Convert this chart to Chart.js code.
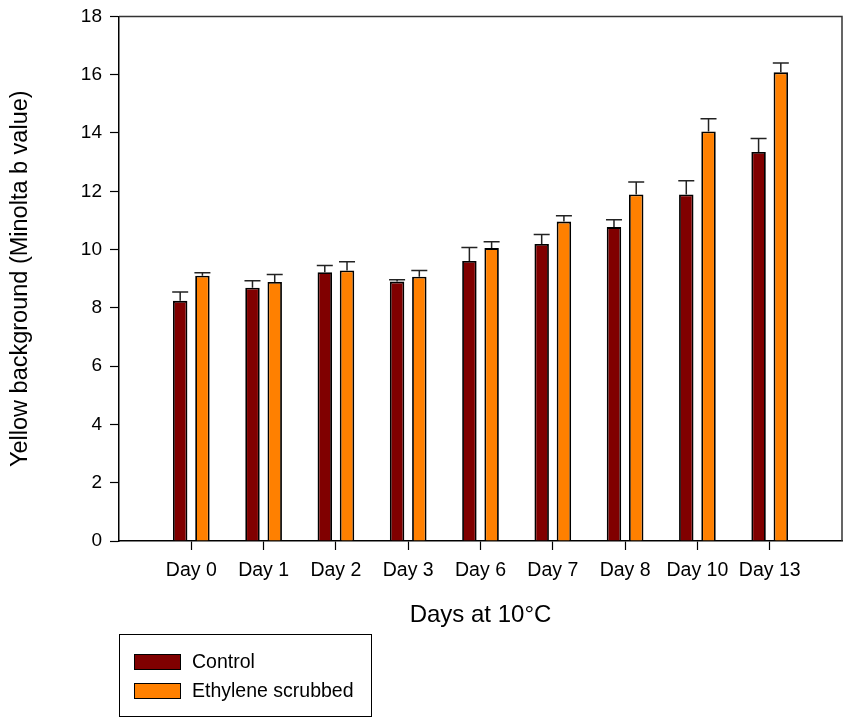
<!DOCTYPE html>
<html lang="en">
<head>
  <meta charset="UTF-8">
  <title>Yellow background</title>
  <script src="https://cdn.jsdelivr.net/npm/chart.js"></script>
  <style>
    body { margin: 0; background: #fff; overflow: hidden; font-family: Arial, "Liberation Sans", sans-serif; }
    #wrap { position: relative; width: 847px; height: 722px; overflow: hidden; }
    canvas { position: absolute; left: 0; top: -3px; }
    #legend { position: absolute; left: 119px; top: 634px; width: 253px; height: 83px;
              border: 1.5px solid #000; box-sizing: border-box; }
    .item { position: absolute; left: 14px; font-size: 19.5px; line-height: 19px; color: #000; }
    .sw { display: inline-block; width: 47px; height: 16px; border: 1.5px solid #000;
          box-sizing: border-box; vertical-align: -2px; margin-right: 11px; }
  </style>
</head>
<body>
<div id="wrap">
  <canvas id="grafico" width="851" height="643"></canvas>
  <div id="legend"></div>
</div>

<script>
  // dados
  const days = ['Day 0', 'Day 1', 'Day 2', 'Day 3', 'Day 6', 'Day 7', 'Day 8', 'Day 10', 'Day 13'];
  const control = [8.24, 8.69, 9.22, 8.90, 9.61, 10.19, 10.77, 11.89, 13.35];
  const controlErr = [0.30, 0.24, 0.23, 0.06, 0.46, 0.33, 0.25, 0.47, 0.46];
  const scrubbed = [9.10, 8.89, 9.28, 9.07, 10.05, 10.96, 11.89, 14.05, 16.08];
  const scrubbedErr = [0.10, 0.25, 0.30, 0.21, 0.22, 0.20, 0.43, 0.44, 0.32];
  const yTicks = [0, 2, 4, 6, 8, 10, 12, 14, 16, 18];

  const seriesNames = ['Control', 'Ethylene scrubbed'];
  const seriesColors = ['#800000', '#ff8000'];

  const fonte = 'Arial, "Liberation Sans", sans-serif';

  // uma categoria vazia em cada ponta, como no original
  const labels = [''].concat(days, ['']);
  const pad = arr => [null].concat(arr, [null]);
  const erros = [pad(controlErr), pad(scrubbedErr)];

  const errorBars = {
    id: 'errorBars',
    afterDatasetsDraw(chart) {
      const ctx = chart.ctx;
      const y = chart.scales.y;
      ctx.save();
      ctx.strokeStyle = '#222';
      ctx.lineWidth = 1.5;
      chart.data.datasets.forEach((ds, i) => {
        const meta = chart.getDatasetMeta(i);
        meta.data.forEach((bar, j) => {
          const v = ds.data[j];
          const e = erros[i][j];
          if (v == null || e == null) return;
          const top = y.getPixelForValue(v + e);
          ctx.beginPath();
          ctx.moveTo(bar.x, bar.y);
          ctx.lineTo(bar.x, top);
          ctx.moveTo(bar.x - 8, top);
          ctx.lineTo(bar.x + 8, top);
          ctx.stroke();
        });
      });
      // moldura em cima e à direita
      const a = chart.chartArea;
      ctx.strokeStyle = '#333';
      ctx.beginPath();
      ctx.moveTo(a.left, a.top);
      ctx.lineTo(a.right, a.top);
      ctx.lineTo(a.right, a.bottom);
      ctx.stroke();
      ctx.restore();
    }
  };

  const chart = new Chart(document.getElementById('grafico'), {
    type: 'bar',
    data: {
      labels: labels,
      datasets: [
        { label: seriesNames[0], data: pad(control), backgroundColor: seriesColors[0],
          borderColor: '#000', borderWidth: 1.8 },
        { label: seriesNames[1], data: pad(scrubbed), backgroundColor: seriesColors[1],
          borderColor: '#000', borderWidth: 1.8 }
      ]
    },
    options: {
      responsive: false,
      animation: false,
      layout: { padding: { left: 0, top: 11, right: 0, bottom: 0 } },
      datasets: { bar: { categoryPercentage: 0.615, barPercentage: 0.65 } },
      plugins: { legend: { display: false }, tooltip: { enabled: false } },
      scales: {
        x: {
          offset: false,
          grid: {
            offset: false, drawOnChartArea: false, tickLength: 9, tickWidth: 1.2,
            tickColor: c => (c.tick && c.tick.label === '') ? 'rgba(0,0,0,0)' : '#000'
          },
          border: { color: '#000', width: 1.5 },
          ticks: { color: '#000', padding: 9, maxRotation: 0, autoSkip: false,
                   font: { family: fonte, size: 19.5 } },
          title: { display: true, text: 'Days at 10°C', color: '#000',
                   font: { family: fonte, size: 24 }, padding: { top: 0, bottom: 10 } },
          afterFit: s => { s.height = 99; }
        },
        y: {
          min: 0, max: 18,
          afterBuildTicks: s => { s.ticks = yTicks.map(v => ({ value: v })); },
          grid: { drawOnChartArea: false, tickLength: 9, tickWidth: 1.2, tickColor: '#000' },
          border: { color: '#000', width: 1.5 },
          ticks: { color: '#000', padding: 8, font: { family: fonte, size: 19 } },
          title: { display: true, text: 'Yellow background (Minolta b value)', color: '#000',
                   font: { family: fonte, size: 23.5 }, padding: { top: 6, bottom: 0 } },
          afterFit: s => { s.width = 119; }
        }
      }
    },
    plugins: [errorBars]
  });

  // legenda em caixa, como no original
  const leg = document.getElementById('legend');
  seriesNames.forEach((nome, i) => {
    const d = document.createElement('div');
    d.className = 'item';
    d.style.top = (17 + i * 28.5) + 'px';
    d.innerHTML = '<span class="sw" style="background:' + seriesColors[i] + '"></span>' + nome;
    leg.appendChild(d);
  });
</script>
</body>
</html>
